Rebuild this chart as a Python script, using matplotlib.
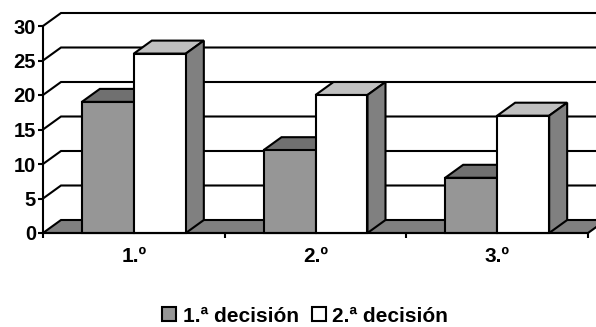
import matplotlib
matplotlib.use('Agg')
import matplotlib.pyplot as plt
from matplotlib.patches import Polygon, Patch

plt.rcParams['font.family'] = ['Liberation Sans', 'DejaVu Sans']

categories = ['1.º', '2.º', '3.º']
series_names = ['1.ª decisión', '2.ª decisión']
first = [19, 12, 8]
second = [26, 20, 17]
y_ticks = [0, 5, 10, 15, 20, 25, 30]

# fake 3D depth, in data units
DX = 18 / 181.67
DY = 13 / 6.9
BAR_W = 52 / 181.67
LW = 1.5

W, H = 596, 327
fig = plt.figure(figsize=(W / 100, H / 100), dpi=100)
ax = fig.add_axes([43 / W, 1 - 233 / H, 545 / W, 207 / H])
ax.set_xlim(0, 3)
ax.set_ylim(0, 30)
ax.set_facecolor('none')


def poly(points, color, z):
    ax.add_patch(Polygon(points, closed=True, facecolor=color, edgecolor='black',
                         linewidth=LW, joinstyle='miter', clip_on=False, zorder=z))


# back wall gridlines and their slanted part on the side wall
for v in y_ticks[1:]:
    ax.plot([0, DX, 3.2], [v, v + DY, v + DY], color='black', lw=LW, clip_on=False, zorder=1,
            solid_joinstyle='miter')

# floor
poly([(0, 0), (DX, DY), (3 + DX, DY), (3, 0)], '#808080', 2)

# bars: one call for the fronts, then the top and side faces
for i in range(len(categories)):
    x1 = i + 0.5 - BAR_W
    x2 = i + 0.5
    ax.bar(x1, first[i], BAR_W, align='edge', color='#969696', edgecolor='black', linewidth=LW, zorder=4,
           clip_on=False)
    poly([(x1, first[i]), (x1 + DX, first[i] + DY), (x1 + BAR_W + DX, first[i] + DY), (x1 + BAR_W, first[i])],
         '#707070', 3)
    ax.bar(x2, second[i], BAR_W, align='edge', color='white', edgecolor='black', linewidth=LW, zorder=6,
           clip_on=False)
    poly([(x2, second[i]), (x2 + DX, second[i] + DY), (x2 + BAR_W + DX, second[i] + DY), (x2 + BAR_W, second[i])],
         '#c0c0c0', 5)
    poly([(x2 + BAR_W, 0), (x2 + BAR_W + DX, DY), (x2 + BAR_W + DX, second[i] + DY), (x2 + BAR_W, second[i])],
         '#808080', 5)

for s in ['top', 'right']:
    ax.spines[s].set_visible(False)
for s in ['left', 'bottom']:
    ax.spines[s].set_linewidth(LW)
    ax.spines[s].set_zorder(8)

ax.set_yticks(y_ticks)
ax.set_xticks([0, 1, 2, 3])
ax.set_xticklabels([])
ax.tick_params(axis='both', length=3.5, width=LW)
ax.tick_params(axis='y', labelsize=14.5, pad=1.5)
for lab in ax.get_yticklabels():
    lab.set_fontweight('bold')

for i, c in enumerate(categories):
    ax.annotate(c, (i + 0.5, 0), xytext=(0, -23), textcoords='offset pixels', ha='center', va='center',
                fontsize=15, fontweight='bold')

handles = [Patch(facecolor='#969696', edgecolor='black', linewidth=LW),
           Patch(facecolor='white', edgecolor='black', linewidth=LW)]
fig.legend(handles, series_names, ncol=2, loc='center', bbox_to_anchor=(305 / W, 1 - 316 / H),
           frameon=False, prop={'size': 15, 'weight': 'bold'}, handlelength=0.68, handleheight=0.68,
           handletextpad=0.32, columnspacing=0.62, borderpad=0)

fig.savefig('out.png', dpi=100)
